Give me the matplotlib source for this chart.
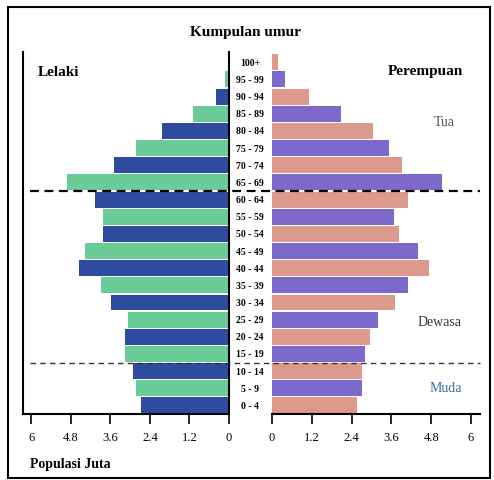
import matplotlib
matplotlib.use('Agg')
import matplotlib.pyplot as plt
import matplotlib.transforms as mtransforms
from matplotlib.patches import Rectangle
from matplotlib.lines import Line2D

plt.rcParams['font.family'] = ['Liberation Serif', 'DejaVu Serif']

# age groups, bottom to top
ages = ['0 - 4', '5 - 9', '10 - 14', '15 - 19', '20 - 24', '25 - 29', '30 - 34',
        '35 - 39', '40 - 44', '45 - 49', '50 - 54', '55 - 59', '60 - 64',
        '65 - 69', '70 - 74', '75 - 79', '80 - 84', '85 - 89', '90 - 94',
        '95 - 99', '100+']
# population, millions
male = [2.68, 2.82, 2.92, 3.15, 3.15, 3.07, 3.58, 3.89, 4.55, 4.38, 3.81,
        3.81, 4.08, 4.92, 3.50, 2.82, 2.04, 1.10, 0.40, 0.12, 0.02]
female = [2.55, 2.72, 2.72, 2.80, 2.96, 3.20, 3.71, 4.09, 4.73, 4.41, 3.84,
          3.68, 4.10, 5.13, 3.92, 3.52, 3.05, 2.08, 1.11, 0.39, 0.17]
ticks = [0, 1.2, 2.4, 3.6, 4.8, 6]
tick_labels = ['0', '1.2', '2.4', '3.6', '4.8', '6']

male_cols = ['#2d4b9f', '#6ccc98']
female_cols = ['#dc9a8c', '#7d69c9']

W, H = 494, 481
fig = plt.figure(figsize=(W / 100, H / 100), dpi=100)

axL = fig.add_axes([23 / W, (H - 415) / H, 206 / W, 362 / H])
axR = fig.add_axes([272 / W, (H - 415) / H, 208 / W, 362 / H])

yy = list(range(len(ages)))
axL.barh(yy, male, height=0.93,
         color=[male_cols[i % 2] for i in yy])
axR.barh(yy, female, height=0.93,
         color=[female_cols[i % 2] for i in yy])

axL.set_xlim(6.25, 0)
axR.set_xlim(0, 6.27)
for ax in (axL, axR):
    ax.set_ylim(-0.5, len(ages) - 0.4)
    ax.set_yticks([])
    ax.set_xticks(ticks)
    ax.set_xticklabels(tick_labels, fontsize=9)
    ax.tick_params(axis='x', length=7, width=1.2, direction='out', pad=5)
    ax.spines['top'].set_visible(False)
    ax.spines['bottom'].set_linewidth(1.5)

axL.spines['left'].set_linewidth(1.5)
axL.spines['right'].set_linewidth(1.5)
axR.spines['left'].set_visible(False)
axR.spines['right'].set_visible(False)

# age labels in the middle gap
trans_mid = mtransforms.blended_transform_factory(fig.transFigure, axL.transData)
for i, a in enumerate(ages):
    fig.text(250 / W, i, a, transform=trans_mid, ha='center', va='center',
             fontsize=7, fontweight='bold')

# dashed group separators
fig.add_artist(Line2D([30 / W, 480 / W], [12.5, 12.5], transform=trans_mid,
                      color='black', lw=1.6, ls=(0, (4, 2.5))))
fig.add_artist(Line2D([30 / W, 480 / W], [2.5, 2.5], transform=trans_mid,
                      color='#333333', lw=1.0, ls=(0, (4, 3))))

fig.text(245 / W, 1 - 33 / H, 'Kumpulan umur', ha='center', va='center',
         fontsize=11, fontweight='bold')
fig.text(38 / W, 1 - 72 / H, 'Lelaki', ha='left', va='center',
         fontsize=11, fontweight='bold')
fig.text(463 / W, 1 - 72 / H, 'Perempuan', ha='right', va='center',
         fontsize=11, fontweight='bold')
fig.text(455 / W, 1 - 122 / H, 'Tua', ha='right', va='center',
         fontsize=10, color='#555555')
fig.text(462 / W, 1 - 323 / H, 'Dewasa', ha='right', va='center',
         fontsize=10, color='#333333')
fig.text(462 / W, 1 - 388 / H, 'Muda', ha='right', va='center',
         fontsize=10, color='#3b6ea8')
fig.text(30 / W, 1 - 465 / H, 'Populasi Juta', ha='left', va='center',
         fontsize=10, fontweight='bold')

fig.add_artist(Rectangle((8 / W, 2 / H), 482 / W, (H - 10) / H,
                         transform=fig.transFigure, fill=False,
                         edgecolor='black', lw=1.5))

fig.savefig('out.png', dpi=100)
